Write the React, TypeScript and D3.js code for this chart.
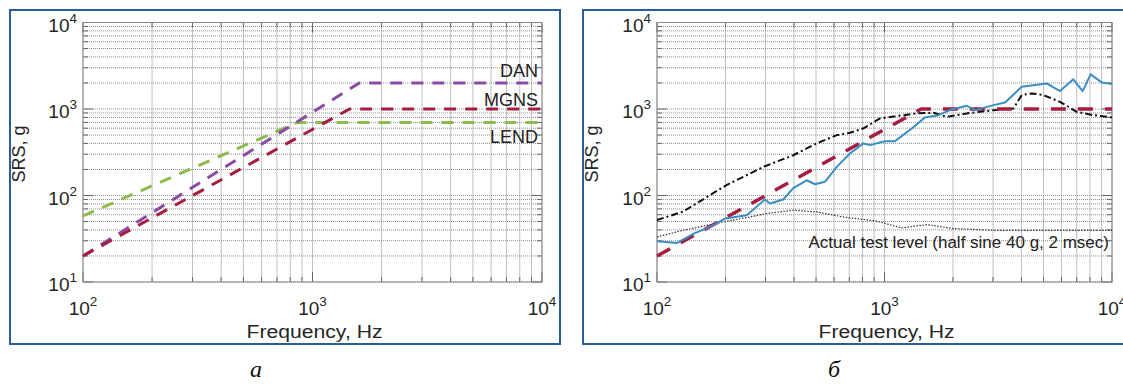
import React from 'react';
import * as d3 from 'd3';

// axis ticks
const freqDecades = [100, 1000, 10000];
const freqExp = ['2', '3', '4'];
const srsDecades = [10, 100, 1000, 10000];
const srsExp = ['1', '2', '3', '4'];

// panel a: SRS requirements
const lendHz = [100, 860, 10000];
const lendG = [58, 700, 700];
const danHz = [100, 1600, 10000];
const danG = [20, 2000, 2000];
const mgnsHz = [100, 1450, 10000];
const mgnsG = [20, 1000, 1000];

// panel b: measured SRS (blue)
const measHz = [100, 122, 145, 171, 199, 248, 298, 314, 359, 397, 455, 495, 547, 617, 705, 807, 864, 955, 1005, 1112, 1318, 1508, 1724, 1974, 2300, 2502, 3015, 3389, 4012, 5164, 5905, 6761, 7430, 8054, 9010, 10000];
const measG = [29.6, 28.2, 36.3, 43.4, 54.2, 59.2, 89.9, 80.8, 89.9, 122, 150, 135, 144, 214, 306, 400, 382, 410, 425, 425, 596, 800, 849, 989, 1089, 970, 1109, 1192, 1806, 1977, 1611, 2203, 1611, 2512, 2030, 1940];

// panel b: envelope (dash-dot)
const envHz = [100, 130, 202, 298, 397, 503, 617, 705, 807, 955, 1132, 1386, 1641, 1879, 2300, 3015, 3690, 4012, 4438, 4990, 5905, 6998, 8279, 10000];
const envG = [52, 65, 132, 218, 292, 400, 499, 531, 596, 778, 828, 889, 904, 813, 889, 970, 1016, 1449, 1514, 1449, 1211, 929, 849, 800];

// panel b: actual test level (dotted)
const testHz = [100, 130, 195, 256, 303, 397, 503, 659, 925, 1190, 1535, 2008, 3015, 10000];
const testG = [33.2, 39.6, 49.4, 56.5, 61.9, 67.6, 64.6, 56.5, 50.5, 42.2, 46.1, 41.5, 39.6, 39.6];

const FONT = 'Liberation Sans, Arial, Helvetica, sans-serif';
const TOP = 22.5;
const BOTTOM = 282;

type Series = { hz: number[]; g: number[]; color: string; width: number; dash?: string };

function Panel({ x0, x1, box, series }: { x0: number; x1: number; box: number[]; series: Series[] }) {
  const x = d3.scaleLog().domain([100, 10000]).range([x0, x1]);
  const y = d3.scaleLog().domain([10, 10000]).range([BOTTOM, TOP]);
  const xTicks = x.ticks();
  const yTicks = y.ticks();

  return (
    <g>
      <rect x={box[0]} y={box[1]} width={box[2] - box[0]} height={box[3] - box[1]} fill="none" stroke="#2b5c9b" strokeWidth={2} />
      {/* grid */}
      {xTicks.map((t) => (
        <line key={'vx' + t} x1={x(t)} x2={x(t)} y1={TOP} y2={BOTTOM} stroke="#c0c0c0" strokeWidth={1} />
      ))}
      {yTicks.map((t) => (
        <line key={'hy' + t} x1={x0} x2={x1} y1={y(t)} y2={y(t)} stroke="#8e8e8e" strokeWidth={1} strokeDasharray="1,1" />
      ))}
      {/* ticks */}
      {xTicks.map((t) => {
        const len = freqDecades.includes(t) ? 10 : 5;
        return (
          <g key={'tx' + t}>
            <line x1={x(t)} x2={x(t)} y1={BOTTOM} y2={BOTTOM - len} stroke="#666" />
            <line x1={x(t)} x2={x(t)} y1={TOP} y2={TOP + len} stroke="#666" />
          </g>
        );
      })}
      {yTicks.map((t) => {
        const len = srsDecades.includes(t) ? 10 : 5;
        return (
          <g key={'ty' + t}>
            <line x1={x0} x2={x0 + len} y1={y(t)} y2={y(t)} stroke="#666" />
            <line x1={x1} x2={x1 - len} y1={y(t)} y2={y(t)} stroke="#666" />
          </g>
        );
      })}
      <rect x={x0} y={TOP} width={x1 - x0} height={BOTTOM - TOP} fill="none" stroke="#8a8a8a" strokeWidth={1} />
      {/* data */}
      {series.map((s, i) => {
        const path = d3
          .line<number>()
          .x((d) => x(s.hz[d]))
          .y((d) => y(s.g[d]))(s.hz.map((_, k) => k));
        return (
          <path key={'s' + i} d={path || ''} fill="none" stroke={s.color} strokeWidth={s.width} strokeDasharray={s.dash} strokeLinejoin="round" />
        );
      })}
      {/* tick labels */}
      {freqDecades.map((t, i) => (
        <text key={'lx' + t} x={x(t)} y={315} textAnchor="middle" fontFamily={FONT} fontSize={19} fill="#262626">
          10<tspan dy={-9} fontSize={13.5}>{freqExp[i]}</tspan>
        </text>
      ))}
      {srsDecades.map((t, i) => (
        <text key={'ly' + t} x={x0 - 6} y={y(t) + 9} textAnchor="end" fontFamily={FONT} fontSize={19} fill="#262626">
          10<tspan dy={-9} fontSize={13.5}>{srsExp[i]}</tspan>
        </text>
      ))}
      <text x={(x0 + x1) / 2 + 2} y={338} textAnchor="middle" fontFamily={FONT} fontSize={18} fill="#262626" textLength={136} lengthAdjust="spacingAndGlyphs">
        Frequency, Hz
      </text>
      <text transform={`translate(${box[0] + 15},${154}) rotate(-90)`} textAnchor="middle" fontFamily={FONT} fontSize={18} fill="#262626">
        SRS, g
      </text>
    </g>
  );
}

export default function App() {
  const seriesA: Series[] = [
    { hz: lendHz, g: lendG, color: '#8dbb4c', width: 3, dash: '12,9' },
    { hz: danHz, g: danG, color: '#8a4aa6', width: 3, dash: '12,9' },
    { hz: mgnsHz, g: mgnsG, color: '#a51d3f', width: 3, dash: '12,9' },
  ];
  const seriesB: Series[] = [
    { hz: testHz, g: testG, color: '#333', width: 1.2, dash: '1.5,1.5' },
    { hz: envHz, g: envG, color: '#111', width: 2, dash: '7,3,2,3' },
    { hz: mgnsHz, g: mgnsG, color: '#a51d3f', width: 3.5, dash: '15,12' },
    { hz: measHz, g: measG, color: '#3a8ec4', width: 2 },
  ];
  return (
    <svg width={1123} height={385} style={{ position: 'absolute', left: 0, top: 0, background: '#fff' }}>
      <Panel x0={83} x1={542} box={[10, 10, 560, 344]} series={seriesA} />
      <Panel x0={657} x1={1112} box={[583, 10, 1140, 344]} series={seriesB} />
      <g fontFamily={FONT} fontSize={18} fill="#222" textAnchor="end">
        <text x={538} y={77}>DAN</text>
        <text x={538} y={106}>MGNS</text>
        <text x={538} y={143}>LEND</text>
      </g>
      <text x={1109} y={248} textAnchor="end" fontFamily={FONT} fontSize={17} fill="#222">
        Actual test level (half sine 40 g, 2 msec)
      </text>
      <text x={256} y={377} textAnchor="middle" fontFamily="Liberation Serif, Times New Roman, serif" fontStyle="italic" fontSize={24} fill="#111">
        а
      </text>
      <text x={834} y={377} textAnchor="middle" fontFamily="Liberation Serif, Times New Roman, serif" fontStyle="italic" fontSize={24} fill="#111">
        б
      </text>
    </svg>
  );
}
